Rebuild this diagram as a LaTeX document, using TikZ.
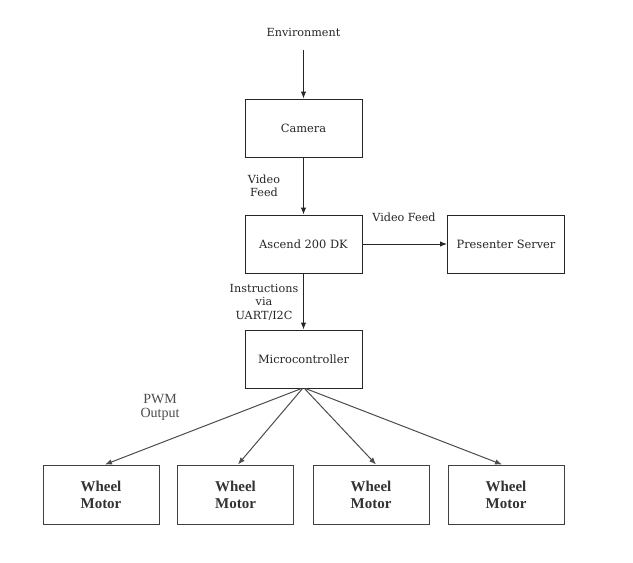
\documentclass[tikz,border=0pt]{standalone}
\usepackage{fontspec}
\setmainfont{DejaVu Serif}
\newfontfamily\timesfont{Liberation Serif}
\usetikzlibrary{arrows.meta}
\tikzset{
  box/.style={draw=black!85, line width=1pt, minimum width=117pt, minimum height=58pt, inner sep=0pt, font=\fontsize{11.4}{13}\selectfont, align=center, text=black!85},
  wbox/.style={draw=black!75, line width=1pt, minimum width=116pt, minimum height=59pt, inner sep=0pt, font=\timesfont\bfseries\fontsize{15}{17}\selectfont, align=center, text=black!80},
  lbl/.style={font=\fontsize{11.2}{13.5}\selectfont, align=center, inner sep=0pt, text=black!85},
  arr/.style={draw=black!85, line width=1pt, -{Latex[length=7pt,width=5.5pt]}},
  warr/.style={draw=black!70, line width=1pt, -{Latex[length=7pt,width=5.5pt]}}
}
\begin{document}
\begin{tikzpicture}[x=1pt,y=-1pt]
\useasboundingbox[fill=white] (0,0) rectangle (633,563);
\node[lbl] (env) at (303.5,32) {Environment};
\node[box] (cam) at (303.5,128) {Camera};
\node[box] (asc) at (303.5,244) {Ascend 200 DK};
\node[box] (pres) at (506,244) {Presenter Server};
\node[box] (mcu) at (303.5,359) {Microcontroller};
\node[wbox] (w1) at (101,494.5) {Wheel\\Motor};
\node[wbox] (w2) at (235.5,494.5) {Wheel\\Motor};
\node[wbox] (w3) at (371,494.5) {Wheel\\Motor};
\node[wbox] (w4) at (506,494.5) {Wheel\\Motor};
\node[lbl] (vf1) at (264,186) {Video\\Feed};
\node[lbl] (vf2) at (404,217) {Video Feed};
\node[lbl] (ins) at (264,302) {Instructions\\via\\UART/I2C};
\node[font=\timesfont\fontsize{14}{14}\selectfont, align=center, inner sep=0pt, text=black!70] (pwm) at (160,407) {PWM\\Output};
\coordinate (envend) at ([yshift=-14pt]env.south);
\draw[arr] (envend) -- (cam.north);
\draw[arr] (cam.south) -- (asc.north);
\draw[arr] (asc.east) -- (pres.west);
\draw[arr] (asc.south) -- (mcu.north);
\draw[warr] ([xshift=-2pt]mcu.south) -- ([xshift=4pt]w1.north);
\draw[warr] ([xshift=-1pt]mcu.south) -- ([xshift=2.5pt]w2.north);
\draw[warr] ([xshift=1pt]mcu.south) -- ([xshift=5pt]w3.north);
\draw[warr] ([xshift=2pt]mcu.south) -- ([xshift=-4pt]w4.north);
\end{tikzpicture}
\end{document}
